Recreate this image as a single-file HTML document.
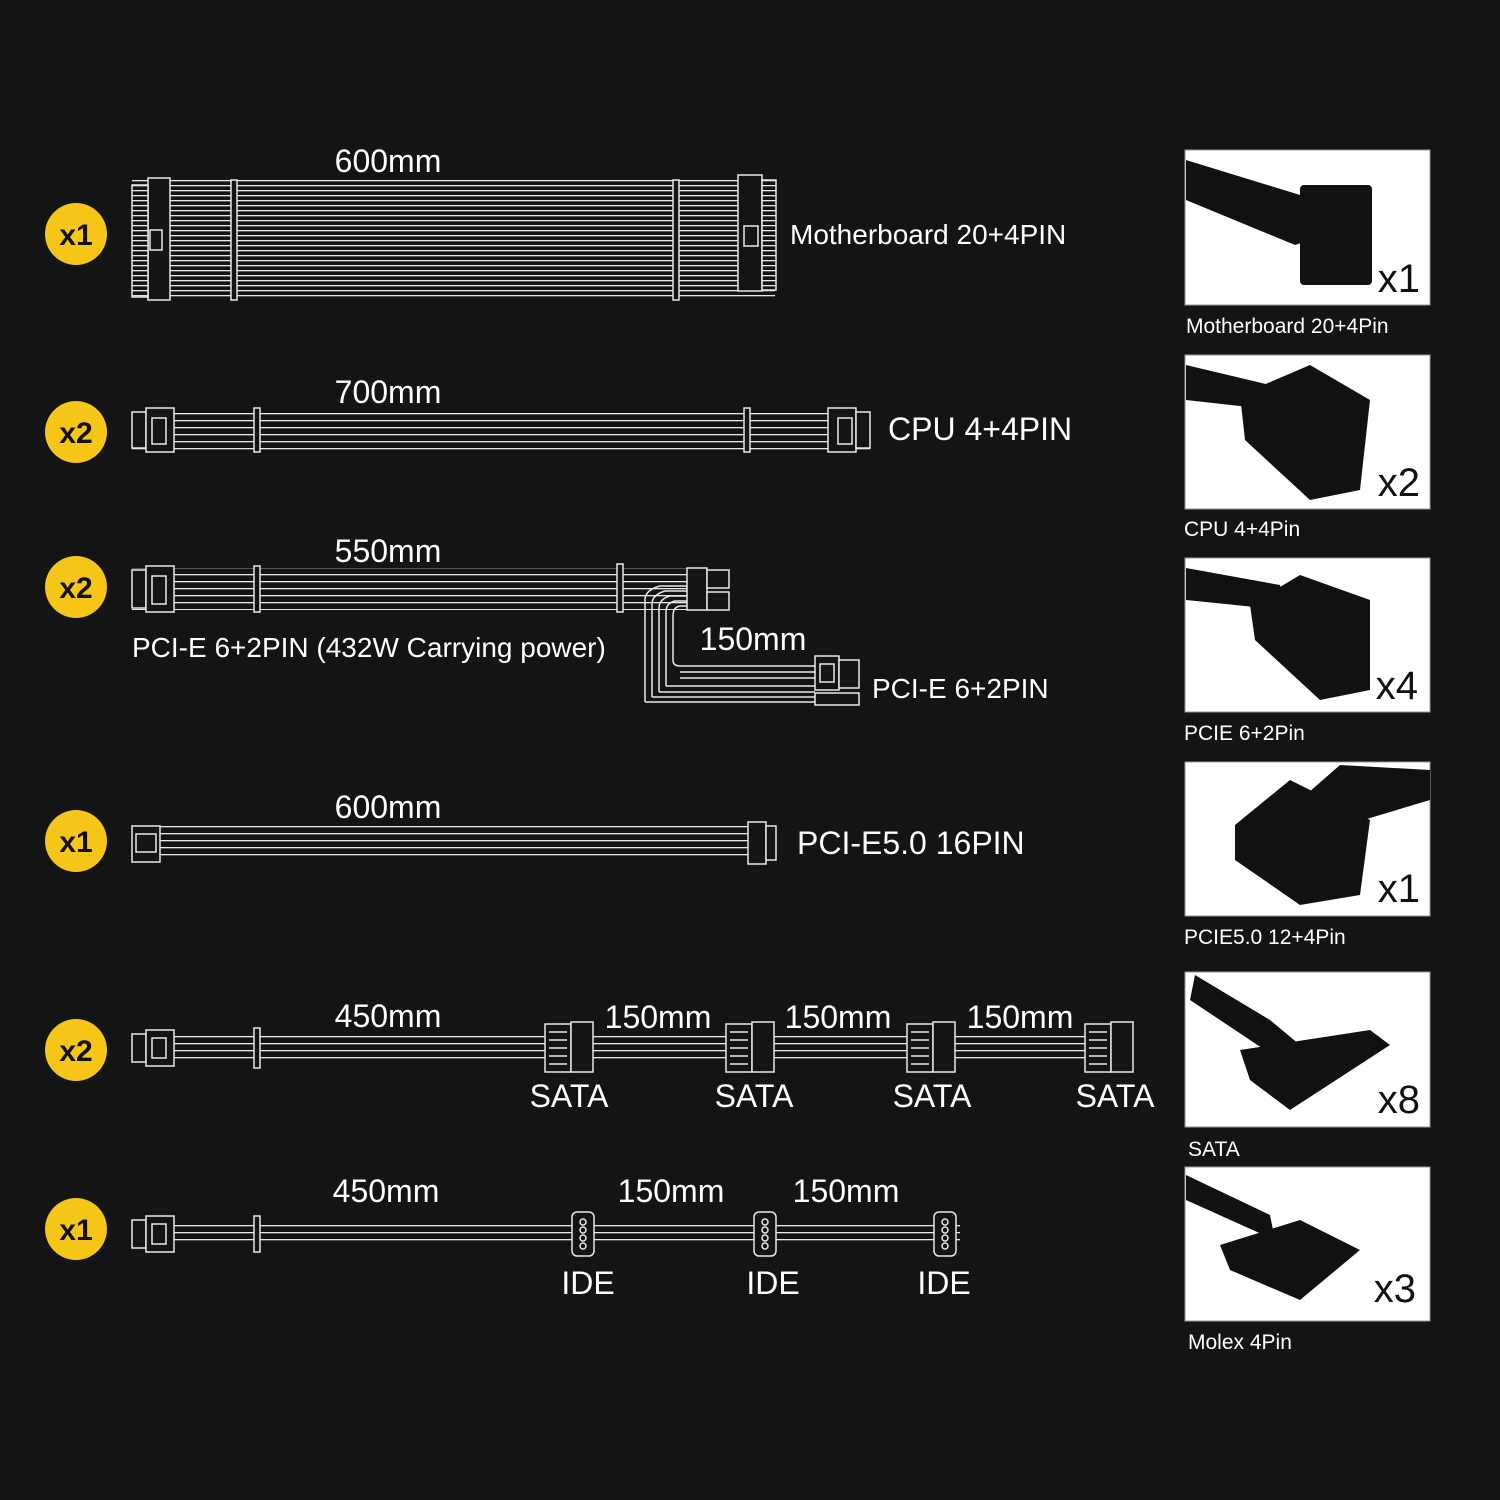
<!DOCTYPE html>
<html><head><meta charset="utf-8"><style>
html,body{margin:0;padding:0;background:#141414;}
svg{display:block}
text{font-family:"Liberation Sans",sans-serif;fill:#fff}
</style></head><body>
<svg width="1500" height="1500" viewBox="0 0 1500 1500" xmlns="http://www.w3.org/2000/svg">
<rect width="1500" height="1500" fill="#141414"/>
<defs>
<pattern id="hl" width="10" height="5" patternUnits="userSpaceOnUse"><rect width="10" height="5" fill="#141414"/><rect y="0" width="10" height="1.3" fill="#e8e8e8"/></pattern>
<pattern id="hl2" width="10" height="7" patternUnits="userSpaceOnUse"><rect width="10" height="7" fill="#141414"/><rect y="0" width="10" height="1.3" fill="#e8e8e8"/></pattern>
</defs>
<g fill="#f5c518">
<circle cx="76" cy="234" r="31"/><circle cx="76" cy="432" r="31"/><circle cx="76" cy="587" r="31"/>
<circle cx="76" cy="841" r="31"/><circle cx="76" cy="1050" r="31"/><circle cx="76" cy="1229" r="31"/>
</g>
<g font-size="30" font-weight="bold" text-anchor="middle" style="fill:#111">
<text x="76" y="245" style="fill:#111">x1</text><text x="76" y="443" style="fill:#111">x2</text><text x="76" y="598" style="fill:#111">x2</text>
<text x="76" y="852" style="fill:#111">x1</text><text x="76" y="1061" style="fill:#111">x2</text><text x="76" y="1240" style="fill:#111">x1</text>
</g>
<g stroke="#e8e8e8" stroke-width="1.5" fill="none">
<rect x="132" y="180" width="643" height="118" fill="url(#hl)" stroke="none"/>
<rect x="148" y="178" width="22" height="122" fill="#141414"/>
<rect x="132" y="185" width="16" height="112" fill="url(#hl)"/>
<rect x="150" y="230" width="12" height="20" fill="#141414"/>
<rect x="231" y="180" width="6" height="120" fill="#141414"/>
<rect x="673" y="180" width="6" height="120" fill="#141414"/>
<rect x="738" y="175" width="24" height="116" fill="#141414"/>
<rect x="762" y="180" width="14" height="110" fill="url(#hl)"/>
<rect x="744" y="226" width="14" height="20" fill="#141414"/>
<rect x="132" y="410" width="738" height="40" fill="url(#hl2)" stroke="none"/>
<rect x="132" y="412" width="14" height="36" fill="#141414"/>
<rect x="146" y="408" width="28" height="44" fill="#141414"/>
<rect x="152" y="418" width="14" height="26"/>
<rect x="254" y="408" width="6" height="44" fill="#141414"/>
<rect x="744" y="408" width="6" height="44" fill="#141414"/>
<rect x="828" y="408" width="28" height="44" fill="#141414"/>
<rect x="838" y="418" width="14" height="26"/>
<rect x="856" y="412" width="14" height="36" fill="#141414"/>
<rect x="132" y="568" width="555" height="42" fill="url(#hl2)" stroke="none"/>
<rect x="132" y="570" width="14" height="38" fill="#141414"/>
<rect x="146" y="566" width="28" height="46" fill="#141414"/>
<rect x="152" y="576" width="14" height="28"/>
<rect x="254" y="566" width="6" height="46" fill="#141414"/>
<rect x="617" y="564" width="6" height="48" fill="#141414"/>
<rect x="687" y="568" width="20" height="42" fill="#141414"/>
<rect x="707" y="570" width="22" height="18" fill="#141414"/>
<rect x="707" y="592" width="22" height="18" fill="#141414"/>
<path d="M645 702 V600 Q645 590 660 586 H687 M652 697 V604 Q652 595 665 591 H687 M659 692 V608 Q659 599 670 596 H687 M666 686 V612 Q666 603 675 601 H687 M673 660 V616 Q673 607 680 606 H687"/>
<path d="M645 702 H815 M652 697 H815 M659 692 H815 M666 686 H815 M673 660 Q673 666 680 666 H815 M680 672 H815 M680 678 H815"/>
<rect x="815" y="656" width="24" height="34" fill="#141414"/>
<rect x="820" y="664" width="14" height="18"/>
<rect x="839" y="660" width="20" height="28" fill="#141414"/>
<rect x="815" y="693" width="44" height="12" fill="#141414"/>
<rect x="132" y="826" width="643" height="34" fill="url(#hl2)" stroke="none"/>
<rect x="132" y="826" width="28" height="36" fill="#141414"/>
<rect x="136" y="834" width="20" height="18"/>
<rect x="748" y="822" width="18" height="42" fill="#141414"/>
<rect x="766" y="826" width="10" height="34" fill="#141414"/>
<rect x="132" y="1034" width="1000" height="28" fill="url(#hl2)" stroke="none"/>
<rect x="132" y="1034" width="14" height="28" fill="#141414"/>
<rect x="146" y="1030" width="28" height="36" fill="#141414"/>
<rect x="152" y="1038" width="14" height="20"/>
<rect x="254" y="1028" width="6" height="40" fill="#141414"/>
<g fill="#141414">
<rect x="545" y="1024" width="26" height="48"/><rect x="571" y="1022" width="22" height="50"/>
<rect x="726" y="1024" width="26" height="48"/><rect x="752" y="1022" width="22" height="50"/>
<rect x="907" y="1024" width="26" height="48"/><rect x="933" y="1022" width="22" height="50"/>
<rect x="1085" y="1024" width="26" height="48"/><rect x="1111" y="1022" width="22" height="50"/>
</g>
<g>
<path d="M549 1032h18M549 1040h18M549 1048h18M549 1056h18M549 1064h18"/>
<path d="M730 1032h18M730 1040h18M730 1048h18M730 1056h18M730 1064h18"/>
<path d="M911 1032h18M911 1040h18M911 1048h18M911 1056h18M911 1064h18"/>
<path d="M1089 1032h18M1089 1040h18M1089 1048h18M1089 1056h18M1089 1064h18"/>
</g>
<rect x="132" y="1222" width="828" height="24" fill="url(#hl2)" stroke="none"/>
<rect x="132" y="1220" width="14" height="28" fill="#141414"/>
<rect x="146" y="1216" width="28" height="36" fill="#141414"/>
<rect x="152" y="1224" width="14" height="20"/>
<rect x="254" y="1216" width="6" height="36" fill="#141414"/>
<rect x="572" y="1212" width="22" height="44" rx="5" fill="#141414"/>
<rect x="754" y="1212" width="22" height="44" rx="5" fill="#141414"/>
<rect x="934" y="1212" width="22" height="44" rx="5" fill="#141414"/>
<g><circle cx="583" cy="1222" r="3"/><circle cx="583" cy="1230" r="3"/><circle cx="583" cy="1238" r="3"/><circle cx="583" cy="1246" r="3"/>
<circle cx="765" cy="1222" r="3"/><circle cx="765" cy="1230" r="3"/><circle cx="765" cy="1238" r="3"/><circle cx="765" cy="1246" r="3"/>
<circle cx="945" cy="1222" r="3"/><circle cx="945" cy="1230" r="3"/><circle cx="945" cy="1238" r="3"/><circle cx="945" cy="1246" r="3"/></g>
</g>
<g font-size="32">
<text x="388" y="172" text-anchor="middle">600mm</text>
<text x="790" y="244" font-size="28">Motherboard 20+4PIN</text>
<text x="388" y="403" text-anchor="middle">700mm</text>
<text x="888" y="440">CPU 4+4PIN</text>
<text x="388" y="562" text-anchor="middle">550mm</text>
<text x="132" y="657" font-size="28">PCI-E 6+2PIN (432W Carrying power)</text>
<text x="753" y="650" text-anchor="middle">150mm</text>
<text x="872" y="698" font-size="28">PCI-E 6+2PIN</text>
<text x="388" y="818" text-anchor="middle">600mm</text>
<text x="797" y="854">PCI-E5.0 16PIN</text>
<text x="388" y="1027" text-anchor="middle">450mm</text>
<text x="658" y="1028" text-anchor="middle">150mm</text>
<text x="838" y="1028" text-anchor="middle">150mm</text>
<text x="1020" y="1028" text-anchor="middle">150mm</text>
<text x="569" y="1107" text-anchor="middle">SATA</text>
<text x="754" y="1107" text-anchor="middle">SATA</text>
<text x="932" y="1107" text-anchor="middle">SATA</text>
<text x="1115" y="1107" text-anchor="middle">SATA</text>
<text x="386" y="1202" text-anchor="middle">450mm</text>
<text x="671" y="1202" text-anchor="middle">150mm</text>
<text x="846" y="1202" text-anchor="middle">150mm</text>
<text x="588" y="1294" text-anchor="middle">IDE</text>
<text x="773" y="1294" text-anchor="middle">IDE</text>
<text x="944" y="1294" text-anchor="middle">IDE</text>
</g>
<g fill="#fff" stroke="#999" stroke-width="1">
<rect x="1185" y="150" width="245" height="155"/>
<rect x="1185" y="355" width="245" height="154"/>
<rect x="1185" y="558" width="245" height="154"/>
<rect x="1185" y="762" width="245" height="154"/>
<rect x="1185" y="972" width="245" height="155"/>
<rect x="1185" y="1167" width="245" height="154"/>
</g>
<g fill="#111" stroke="none">
<path d="M1186 160 L1300 195 L1310 240 L1295 245 L1186 200Z"/>
<rect x="1300" y="185" width="72" height="100" rx="4"/>
<path d="M1186 365 L1270 385 L1275 410 L1186 400Z"/>
<path d="M1240 395 L1310 365 L1370 400 L1360 490 L1310 500 L1245 440Z"/>
<path d="M1186 568 L1280 585 L1285 610 L1186 600Z"/>
<path d="M1250 605 L1300 575 L1370 600 L1370 690 L1320 700 L1255 640Z"/>
<path d="M1430 770 L1340 765 L1300 800 L1330 830 L1430 800Z"/>
<path d="M1235 825 L1290 780 L1370 820 L1360 895 L1300 905 L1235 860Z"/>
<path d="M1195 975 L1270 1020 L1300 1045 L1280 1060 L1190 1000Z"/>
<path d="M1240 1050 L1370 1030 L1390 1045 L1290 1110 L1250 1080Z"/>
<path d="M1186 1175 L1270 1215 L1275 1240 L1186 1200Z"/>
<path d="M1220 1245 L1300 1220 L1360 1250 L1300 1300 L1230 1270Z"/>
</g>
<g font-size="40" style="fill:#111" text-anchor="end">
<text x="1420" y="292" style="fill:#111">x1</text>
<text x="1420" y="496" style="fill:#111">x2</text>
<text x="1418" y="699" style="fill:#111">x4</text>
<text x="1420" y="902" style="fill:#111">x1</text>
<text x="1420" y="1113" style="fill:#111">x8</text>
<text x="1416" y="1302" style="fill:#111">x3</text>
</g>
<g font-size="21">
<text x="1186" y="333">Motherboard 20+4Pin</text>
<text x="1184" y="536">CPU 4+4Pin</text>
<text x="1184" y="740">PCIE 6+2Pin</text>
<text x="1184" y="944">PCIE5.0 12+4Pin</text>
<text x="1188" y="1156">SATA</text>
<text x="1188" y="1349">Molex 4Pin</text>
</g>
</svg>
</body></html>
